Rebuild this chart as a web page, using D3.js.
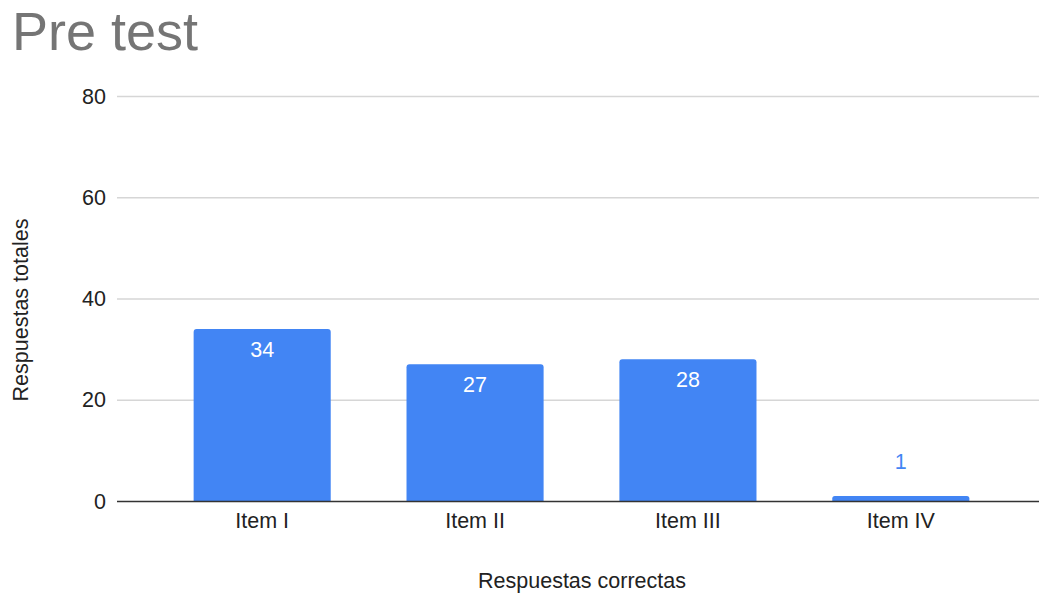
<!DOCTYPE html>
<html>
<head>
<meta charset="utf-8">
<script src="https://cdn.jsdelivr.net/npm/d3@7"></script>
<style>
  body { margin: 0; background: #fff; }
  svg text { font-family: Arial, "Liberation Sans", sans-serif; }
</style>
</head>
<body>
<div id="chart"></div>
<script>
// data
var categories = ["Item I", "Item II", "Item III", "Item IV"];
var values = [34, 27, 28, 1];
var yTicks = [0, 20, 40, 60, 80];

var width = 1039,
    height = 594,
    barColor = "#4285F4";

var svg = d3.select("#chart").append("svg")
    .attr("width", width)
    .attr("height", height);

var x = d3.scaleBand()
    .domain(categories)
    .range([117, 1046])
    .paddingInner(0.356)
    .paddingOuter(0.36);

var y = d3.scaleLinear()
    .domain([0, 80])
    .range([501, 96]);

// title
svg.append("text")
    .attr("x", 12)
    .attr("y", 50)
    .attr("font-size", 54)
    .attr("fill", "#757575")
    .text("Pre test");

// gridlines
svg.append("g").selectAll("line")
    .data(yTicks.filter(function (d) { return d > 0; }))
    .enter().append("line")
    .attr("x1", 117)
    .attr("x2", width)
    .attr("y1", function (d) { return y(d) + 0.5; })
    .attr("y2", function (d) { return y(d) + 0.5; })
    .attr("stroke", "#d6d6d6")
    .attr("stroke-width", 1.5);

// y tick labels
svg.append("g").selectAll("text")
    .data(yTicks)
    .enter().append("text")
    .attr("x", 106)
    .attr("y", function (d) { return y(d) + 7.5; })
    .attr("text-anchor", "end")
    .attr("font-size", 21.5)
    .attr("fill", "#222")
    .text(function (d) { return d; });

// bars, slightly rounded top corners
function barPath(d, i) {
    var x0 = x(categories[i]), w = x.bandwidth(),
        top = y(d), bottom = y(0), r = Math.min(3, (bottom - top) / 2);
    return "M" + x0 + "," + bottom +
        "V" + (top + r) +
        "Q" + x0 + "," + top + " " + (x0 + r) + "," + top +
        "H" + (x0 + w - r) +
        "Q" + (x0 + w) + "," + top + " " + (x0 + w) + "," + (top + r) +
        "V" + bottom + "Z";
}

svg.append("g").selectAll("path")
    .data(values)
    .enter().append("path")
    .attr("fill", barColor)
    .attr("d", barPath);

// value labels
svg.append("g").selectAll("text")
    .data(values)
    .enter().append("text")
    .attr("x", function (d, i) { return x(categories[i]) + x.bandwidth() / 2; })
    .attr("y", function (d) {
        var h = y(0) - y(d);
        return h > 40 ? y(d) + 28 : y(d) - 27;
    })
    .attr("text-anchor", "middle")
    .attr("font-size", 21.5)
    .attr("fill", function (d) { return (y(0) - y(d)) > 40 ? "#fff" : barColor; })
    .text(function (d) { return d; });

// baseline
svg.append("line")
    .attr("x1", 117)
    .attr("x2", width)
    .attr("y1", y(0) + 0.5)
    .attr("y2", y(0) + 0.5)
    .attr("stroke", "#333")
    .attr("stroke-width", 1.3);

// category labels
svg.append("g").selectAll("text")
    .data(categories)
    .enter().append("text")
    .attr("x", function (d) { return x(d) + x.bandwidth() / 2; })
    .attr("y", 528)
    .attr("text-anchor", "middle")
    .attr("font-size", 21.5)
    .attr("fill", "#222")
    .text(function (d) { return d; });

// axis titles
svg.append("text")
    .attr("x", 582)
    .attr("y", 588)
    .attr("text-anchor", "middle")
    .attr("font-size", 21.5)
    .attr("fill", "#222")
    .text("Respuestas correctas");

svg.append("text")
    .attr("transform", "translate(28,310) rotate(-90)")
    .attr("text-anchor", "middle")
    .attr("font-size", 21.5)
    .attr("fill", "#222")
    .text("Respuestas totales");
</script>
</body>
</html>
